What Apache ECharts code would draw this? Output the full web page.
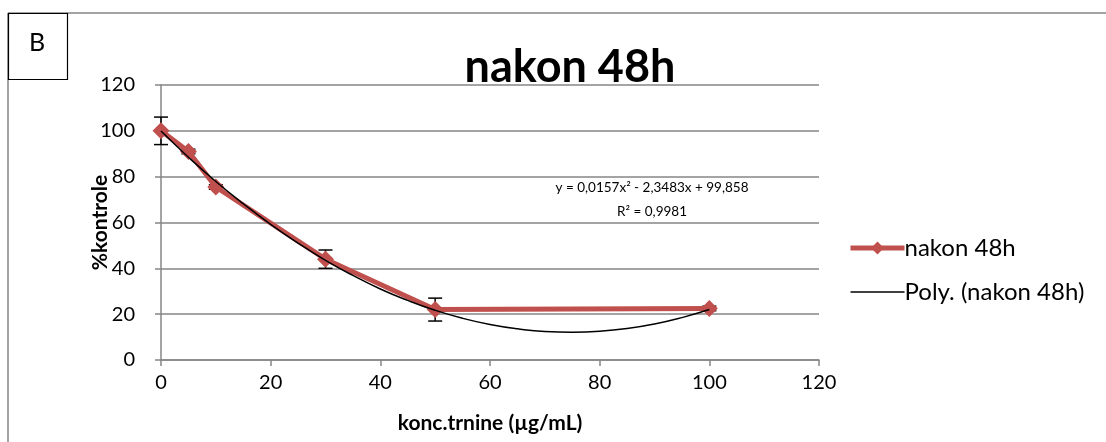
<!DOCTYPE html>
<html>
<head>
<meta charset="utf-8">
<script src="https://cdn.jsdelivr.net/npm/echarts@6/dist/echarts.min.js"></script>
<style>
    html, body { margin: 0; padding: 0; background: #fff; }
    #chart { width: 1106px; height: 442px; }
</style>
</head>
<body>
<div id="chart"></div>
<script>
// 数据
const concentrations = [0, 5, 10, 30, 50, 100]
const percentControl = [100, 91, 75.5, 44, 22, 22.5]
const errorValues = [6, 1, 1, 4, 5, 1]
// 趋势线上读取的点
const trendX = [0, 5, 10, 15, 20, 25, 30, 35, 40, 45, 50, 55, 60, 65, 70, 75, 80, 85, 90, 95, 100]
const trendY = [99.9, 88.5, 77.9, 68.2, 59.2, 51.0, 43.5, 36.9, 31.0, 26.0, 21.7, 18.2, 15.5, 13.6, 12.4, 12.1, 12.5, 13.7, 15.7, 18.5, 22.0]
const yTicks = [0, 20, 40, 60, 80, 100, 120]

const seriesName = 'nakon 48h'
const trendName = 'Poly. (nakon 48h)'
const fontFamily = 'Lato, "Open Sans", sans-serif'

const myChart = echarts.init(document.getElementById('chart'))

const option = {
    animation: false,
    backgroundColor: '#fff',
    textStyle: { fontFamily: fontFamily },
    title: {
        text: seriesName,
        left: 565,
        top: 40,
        textAlign: 'center',
        textStyle: { fontSize: 45, fontWeight: 'bold', color: '#000', fontFamily: fontFamily }
    },
    grid: { left: 161, right: 287, top: 85, bottom: 82 },
    legend: {
        orient: 'vertical',
        left: 843,
        top: 231,
        itemWidth: 54,
        itemHeight: 16,
        itemGap: 20,
        textStyle: { fontSize: 24, color: '#000', fontFamily: fontFamily, padding: [0, 0, 0, -5] },
        data: [
            { name: seriesName, lineStyle: { width: 5 } },
            { name: trendName, itemStyle: { opacity: 0 }, lineStyle: { width: 1.5 } }
        ]
    },
    xAxis: {
        type: 'value',
        min: 0,
        max: 120,
        interval: 20,
        name: 'konc.trnine (µg/mL)',
        nameLocation: 'middle',
        nameGap: 53,
        nameTextStyle: { fontSize: 21, fontWeight: 'bold', color: '#000', fontFamily: fontFamily },
        axisLine: { lineStyle: { color: '#868686', width: 1.5 } },
        axisTick: { show: true, length: 6, lineStyle: { color: '#868686', width: 1.5 } },
        axisLabel: { fontSize: 20, color: '#000', margin: 13, fontFamily: fontFamily },
        splitLine: { show: false }
    },
    yAxis: {
        type: 'value',
        min: yTicks[0],
        max: yTicks[yTicks.length - 1],
        interval: 20,
        name: '%kontrole',
        nameLocation: 'middle',
        nameGap: 50,
        nameMoveOverlap: false,
        nameTextStyle: { fontSize: 21, fontWeight: 'bold', color: '#000', fontFamily: fontFamily },
        axisLine: { show: true, lineStyle: { color: '#868686', width: 1.5 } },
        axisTick: { show: true, inside: false, length: 6, lineStyle: { color: '#868686', width: 1.5 } },
        axisLabel: { fontSize: 20, color: '#000', margin: 26, fontFamily: fontFamily },
        splitLine: { show: true, lineStyle: { color: '#868686', width: 1.5 } }
    },
    graphic: [
        // 外框（只看得见上边和左边）
        { type: 'line', shape: { x1: 8, y1: 13, x2: 1106, y2: 13 }, style: { stroke: '#868686', lineWidth: 1.5 } },
        { type: 'line', shape: { x1: 8, y1: 13, x2: 8, y2: 442 }, style: { stroke: '#868686', lineWidth: 1.5 } },
        // B 标签框
        { type: 'rect', shape: { x: 8.5, y: 13.5, width: 59, height: 66 }, style: { fill: '#fff', stroke: '#000', lineWidth: 1.2 } },
        { type: 'text', style: { x: 37, y: 43, text: 'B', fontSize: 25, fill: '#000', fontFamily: fontFamily, textAlign: 'center', textVerticalAlign: 'middle' } },
        // 趋势线方程
        { type: 'text', style: { x: 652, y: 188, text: 'y = 0,0157x² - 2,3483x + 99,858', fontSize: 13.5, fill: '#000', fontFamily: fontFamily, textAlign: 'center', textVerticalAlign: 'middle' } },
        { type: 'text', style: { x: 652, y: 212, text: 'R² = 0,9981', fontSize: 13.5, fill: '#000', fontFamily: fontFamily, textAlign: 'center', textVerticalAlign: 'middle' } }
    ],
    series: [
        {
            name: seriesName,
            type: 'line',
            data: concentrations.map((x, i) => [x, percentControl[i]]),
            lineStyle: { color: '#C0504D', width: 5 },
            itemStyle: { color: '#C0504D' },
            symbol: 'diamond',
            symbolSize: 17,
            z: 2
        },
        {
            name: 'error',
            type: 'custom',
            data: concentrations.map((x, i) => [x, percentControl[i] - errorValues[i], percentControl[i] + errorValues[i]]),
            renderItem(params, api) {
                const low = api.coord([api.value(0), api.value(1)])
                const high = api.coord([api.value(0), api.value(2)])
                const half = 7
                const style = { stroke: '#000', lineWidth: 1.5 }
                return {
                    type: 'group',
                    children: [
                        { type: 'line', shape: { x1: high[0], y1: high[1], x2: low[0], y2: low[1] }, style },
                        { type: 'line', shape: { x1: high[0] - half, y1: high[1], x2: high[0] + half, y2: high[1] }, style },
                        { type: 'line', shape: { x1: low[0] - half, y1: low[1], x2: low[0] + half, y2: low[1] }, style }
                    ]
                }
            },
            z: 1
        },
        {
            name: trendName,
            type: 'line',
            data: trendX.map((x, i) => [x, trendY[i]]),
            smooth: true,
            showSymbol: false,
            symbol: 'none',
            lineStyle: { color: '#000', width: 1.5 },
            itemStyle: { color: '#000' },
            z: 3
        }
    ]
}

myChart.setOption(option)
</script>
</body>
</html>
